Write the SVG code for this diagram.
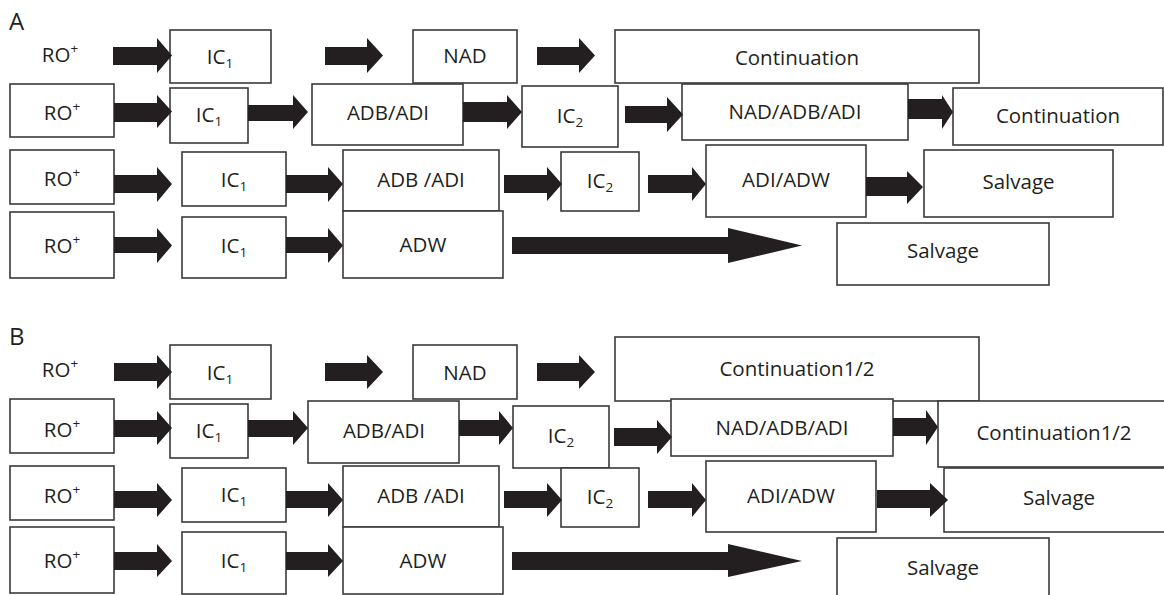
<svg xmlns="http://www.w3.org/2000/svg" width="1164" height="595" viewBox="0 0 1164 595">
<style>
.box{fill:#fff;stroke:#3a3a3a;stroke-width:1.6}
.t{font-family:"Open Sans","Noto Sans",sans-serif;font-size:20.5px;fill:#231f20;text-anchor:middle}
.lbl{font-family:"Open Sans","Noto Sans",sans-serif;font-size:24px;fill:#231f20}
.s{font-size:13.5px}
.arr{fill:#231f20}
</style>
<rect width="1164" height="595" fill="#fff"/>
<text class="lbl" x="9" y="30">A</text>
<text class="lbl" x="9" y="345">B</text>
<g id="nodes-A">
<g id="a1_ro"><text class="t" x="60" y="62">RO<tspan class="s" dy="-9">+</tspan></text></g>
<g id="a1_ic1"><rect class="box" x="170" y="30" width="101" height="53"/><text class="t" x="220" y="64">IC<tspan class="s" dy="4">1</tspan></text></g>
<g id="a1_nad"><rect class="box" x="413" y="30" width="104" height="53"/><text class="t" x="465" y="63">NAD</text></g>
<g id="a1_cont"><rect class="box" x="615" y="30" width="364" height="53"/><text class="t" x="797" y="65">Continuation</text></g>
<g id="a2_ro"><rect class="box" x="10" y="84" width="104" height="53"/><text class="t" x="62" y="120">RO<tspan class="s" dy="-9">+</tspan></text></g>
<g id="a2_ic1"><rect class="box" x="170" y="88" width="78" height="55"/><text class="t" x="209" y="122">IC<tspan class="s" dy="4">1</tspan></text></g>
<g id="a2_adb"><rect class="box" x="312" y="84" width="151" height="61"/><text class="t" x="388" y="120">ADB/ADI</text></g>
<g id="a2_ic2"><rect class="box" x="522" y="86" width="96" height="61"/><text class="t" x="570" y="123">IC<tspan class="s" dy="4">2</tspan></text></g>
<g id="a2_nad"><rect class="box" x="682" y="84" width="226" height="56"/><text class="t" x="795" y="119">NAD/ADB/ADI</text></g>
<g id="a2_cont"><rect class="box" x="953" y="88" width="210" height="57"/><text class="t" x="1058" y="123">Continuation</text></g>
<g id="a3_ro"><rect class="box" x="10" y="150" width="104" height="54"/><text class="t" x="62" y="186">RO<tspan class="s" dy="-9">+</tspan></text></g>
<g id="a3_ic1"><rect class="box" x="182" y="152" width="104" height="54"/><text class="t" x="234" y="187">IC<tspan class="s" dy="4">1</tspan></text></g>
<g id="a3_adb"><rect class="box" x="343" y="150" width="156" height="61"/><text class="t" x="421" y="187">ADB /ADI</text></g>
<g id="a3_ic2"><rect class="box" x="561" y="152" width="78" height="59"/><text class="t" x="600" y="188">IC<tspan class="s" dy="4">2</tspan></text></g>
<g id="a3_adi"><rect class="box" x="706" y="145" width="160" height="72"/><text class="t" x="786" y="187">ADI/ADW</text></g>
<g id="a3_salv"><rect class="box" x="924" y="150" width="189" height="67"/><text class="t" x="1018.5" y="189">Salvage</text></g>
<g id="a4_ro"><rect class="box" x="10" y="212" width="104" height="66"/><text class="t" x="62" y="253">RO<tspan class="s" dy="-9">+</tspan></text></g>
<g id="a4_ic1"><rect class="box" x="182" y="217" width="104" height="61"/><text class="t" x="234" y="253">IC<tspan class="s" dy="4">1</tspan></text></g>
<g id="a4_adw"><rect class="box" x="343" y="211" width="160" height="67"/><text class="t" x="423" y="252">ADW</text></g>
<g id="a4_salv"><rect class="box" x="837" y="223" width="212" height="62"/><text class="t" x="943" y="258">Salvage</text></g>
</g>
<g id="nodes-B">
<g id="b1_ro"><text class="t" x="60" y="377">RO<tspan class="s" dy="-9">+</tspan></text></g>
<g id="b1_ic1"><rect class="box" x="170" y="345" width="101" height="54"/><text class="t" x="220" y="380">IC<tspan class="s" dy="4">1</tspan></text></g>
<g id="b1_nad"><rect class="box" x="413" y="345" width="104" height="54"/><text class="t" x="465" y="380">NAD</text></g>
<g id="b1_cont"><rect class="box" x="615" y="337" width="364" height="64"/><text class="t" x="797" y="376">Continuation1/2</text></g>
<g id="b2_ro"><rect class="box" x="10" y="399" width="104" height="54"/><text class="t" x="62" y="437">RO<tspan class="s" dy="-9">+</tspan></text></g>
<g id="b2_ic1"><rect class="box" x="170" y="404" width="78" height="54"/><text class="t" x="209" y="438">IC<tspan class="s" dy="4">1</tspan></text></g>
<g id="b2_adb"><rect class="box" x="308" y="401" width="151" height="62"/><text class="t" x="384" y="438">ADB/ADI</text></g>
<g id="b2_ic2"><rect class="box" x="513" y="406" width="96" height="62"/><text class="t" x="561" y="443">IC<tspan class="s" dy="4">2</tspan></text></g>
<g id="b2_nad"><rect class="box" x="671" y="399" width="222" height="57"/><text class="t" x="782" y="435">NAD/ADB/ADI</text></g>
<g id="b2_cont"><rect class="box" x="938" y="401" width="230" height="66"/><text class="t" x="1054" y="440">Continuation1/2</text></g>
<g id="b3_ro"><rect class="box" x="10" y="466" width="104" height="54"/><text class="t" x="62" y="503">RO<tspan class="s" dy="-9">+</tspan></text></g>
<g id="b3_ic1"><rect class="box" x="182" y="468" width="104" height="54"/><text class="t" x="234" y="502">IC<tspan class="s" dy="4">1</tspan></text></g>
<g id="b3_adb"><rect class="box" x="343" y="466" width="156" height="61"/><text class="t" x="421" y="503">ADB /ADI</text></g>
<g id="b3_ic2"><rect class="box" x="561" y="468" width="78" height="59"/><text class="t" x="600" y="504">IC<tspan class="s" dy="4">2</tspan></text></g>
<g id="b3_adi"><rect class="box" x="706" y="461" width="170" height="71"/><text class="t" x="791" y="503">ADI/ADW</text></g>
<g id="b3_salv"><rect class="box" x="944" y="468" width="225" height="64"/><text class="t" x="1059" y="505">Salvage</text></g>
<g id="b4_ro"><rect class="box" x="10" y="527" width="104" height="66"/><text class="t" x="62" y="568">RO<tspan class="s" dy="-9">+</tspan></text></g>
<g id="b4_ic1"><rect class="box" x="182" y="532" width="104" height="62"/><text class="t" x="234" y="568">IC<tspan class="s" dy="4">1</tspan></text></g>
<g id="b4_adw"><rect class="box" x="343" y="527" width="160" height="67"/><text class="t" x="423" y="568">ADW</text></g>
<g id="b4_salv"><rect class="box" x="837" y="538" width="212" height="70"/><text class="t" x="943" y="575">Salvage</text></g>
</g>
<g id="connectors" class="arr">
<polygon points="113,47 157,47 157,38 172,55.5 157,73 157,65 113,65"/>
<polygon points="325,47 367,47 367,38 383,55.5 367,73 367,65 325,65"/>
<polygon points="537,47 579,47 579,38 595,55.5 579,73 579,65 537,65"/>
<polygon points="114,103 157,103 157,95 172,111.5 157,128 157,122 114,122"/>
<polygon points="248,105 293,105 293,95 308,112 293,129 293,121 248,121"/>
<polygon points="463,102 507,102 507,95 522,112 507,129 507,122 463,122"/>
<polygon points="625,106 667,106 667,97 683,114.5 667,132 667,123 625,123"/>
<polygon points="908,99 942,99 942,95 953,112 942,129 942,119 908,119"/>
<polygon points="114,175 157,175 157,167 172,184 157,202 157,193 114,193"/>
<polygon points="286,175 328,175 328,167 343,184 328,202 328,193 286,193"/>
<polygon points="504,175 547,175 547,167 562,184 547,201 547,193 504,193"/>
<polygon points="648,175 692,175 692,167 706,184 692,201 692,193 648,193"/>
<polygon points="866,177 907,177 907,171 923,187 907,204 907,196 866,196"/>
<polygon points="114,237 157,237 157,228 172,245.5 157,263 157,253 114,253"/>
<polygon points="286,237 328,237 328,228 343,245.5 328,263 328,253 286,253"/>
<polygon points="512,237 728,237 728,228 802,245.5 728,263 728,254 512,254"/>
<polygon points="114,363 157,363 157,355 172,372 157,389 157,381 114,381"/>
<polygon points="325,363 367,363 367,355 383,372 367,389 367,381 325,381"/>
<polygon points="537,363 579,363 579,355 595,372 579,389 579,381 537,381"/>
<polygon points="114,420 157,420 157,411 172,428 157,445 157,437 114,437"/>
<polygon points="248,420 293,420 293,411 308,428 293,445 293,437 248,437"/>
<polygon points="459,420 499,420 499,411 513,428 499,445 499,436 459,436"/>
<polygon points="614,428 657,428 657,420 672,437 657,454 657,446 614,446"/>
<polygon points="893,418 926,418 926,410 938,427 926,445 926,436 893,436"/>
<polygon points="114,491 157,491 157,483 172,500 157,517 157,508 114,508"/>
<polygon points="286,491 328,491 328,483 343,500 328,517 328,508 286,508"/>
<polygon points="504,491 547,491 547,483 562,500 547,517 547,508 504,508"/>
<polygon points="648,491 692,491 692,483 706,500 692,517 692,508 648,508"/>
<polygon points="877,490 930,490 930,483 948,500 930,517 930,508 877,508"/>
<polygon points="114,552 157,552 157,544 172,561 157,577 157,570 114,570"/>
<polygon points="286,552 328,552 328,544 343,561 328,577 328,570 286,570"/>
<polygon points="512,552 728,552 728,544 802,561 728,577 728,570 512,570"/>
</g>
</svg>
